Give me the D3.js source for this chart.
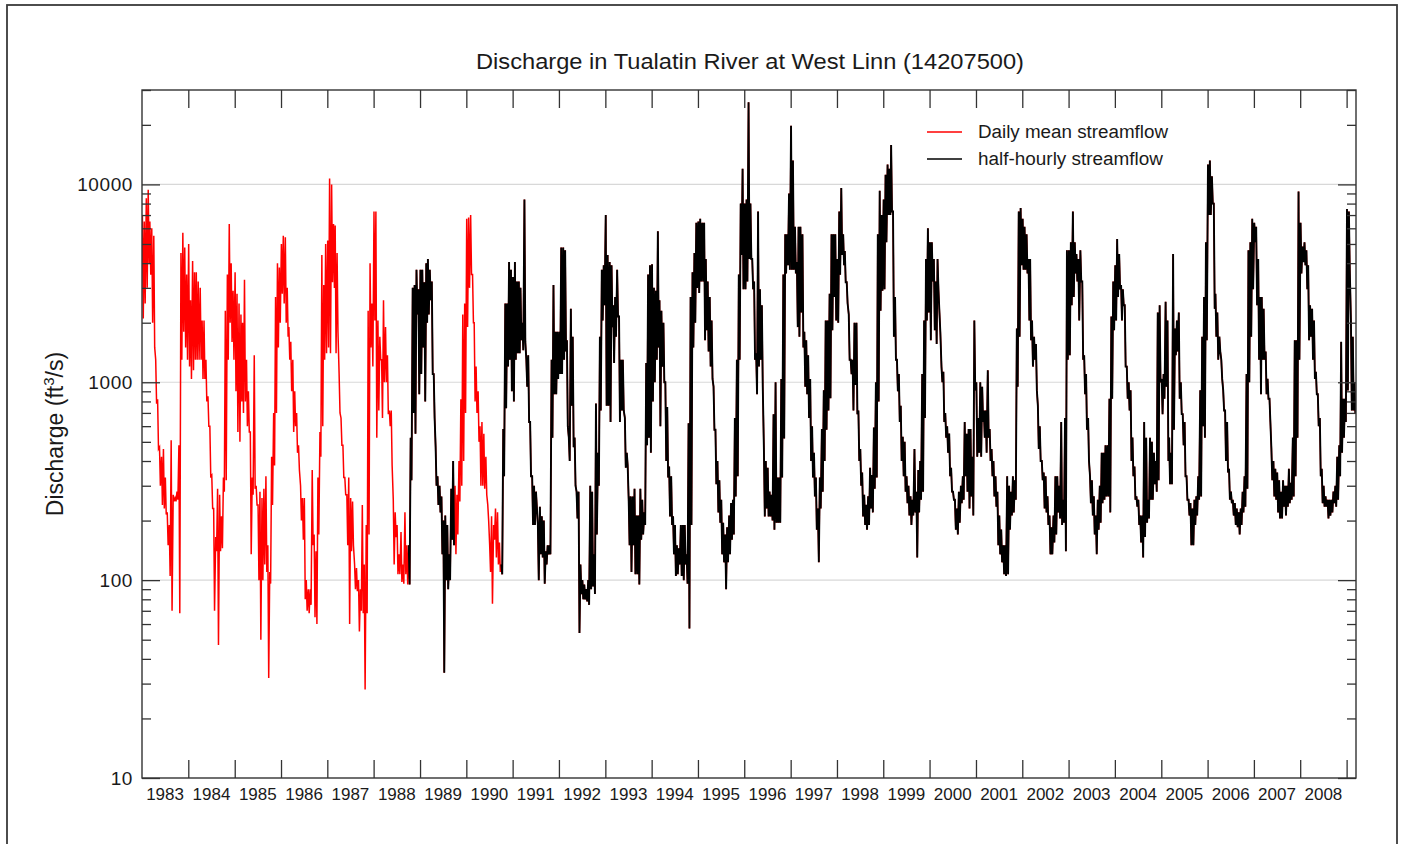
<!DOCTYPE html>
<html>
<head>
<meta charset="utf-8">
<script src="https://cdn.jsdelivr.net/npm/d3@7"></script>
<style>
  body { margin: 0; background: #fff; }
  svg { display: block; }
  text { font-family: "Liberation Sans", Arial, Helvetica, sans-serif; fill: #1a1a1a; }
</style>
</head>
<body>
<svg id="chart" width="1402" height="844"></svg>
<script>
// Discharge, ft3/s: for each half-month of the calendar year, the high then the low value.
const flow1983 = [7000,2100, 6500,2500, 8500,3000, 9400,4000, 6500,3500, 6000,2000, 5500,1500, 1300,780, 820,460, 470,300, 420,240, 460,230, 330,215, 220,150, 190,105, 510,70, 270,250, 260,250, 280,255, 480,68, 4500,1300, 5700,1800, 4800,1500, 3500,1300];
const flow1984 = [5000,1200, 2600,1040, 4100,1150, 3600,1300, 3600,1300, 3230,1300, 3000,1300, 2050,1040, 2050,1040, 1300,800, 850,600, 600,335, 340,230, 230,70, 165,140, 290,47, 270,140, 210,145, 330,280, 2300,320, 3500,1300, 6300,2000, 4000,1600, 2900,1300];
const flow1985 = [3600,900, 2800,560, 2500,500, 2200,800, 2000,700, 3300,800, 1300,600, 900,560, 560,135, 330,270, 1370,290, 300,240, 240,100, 280,50, 260,100, 290,120, 335,110, 150,32, 110,96, 420,240, 700,380, 2700,700, 4000,1500, 3800,2000];
const flow1986 = [5000,2800, 5500,2500, 5400,2000, 3000,1700, 1900,1300, 1600,900, 1300,560, 900,600, 700,440, 480,360, 300,200, 260,160, 260,80, 100,70, 90,68, 90,75, 360,150, 170,65, 140,60, 330,170, 560,420, 4400,600, 3100,1300, 5000,1400];
const flow1987 = [5200,1500, 10700,1400, 10000,3200, 6300,3000, 6200,1400, 4500,1800, 1100,700, 660,480, 480,330, 330,270, 270,150, 330,60, 260,140, 250,150, 120,90, 115,88, 100,55, 90,70, 240,68, 120,28, 190,68, 2300,170, 4000,1500, 2500,1200];
const flow1988 = [7300,2050, 7300,525, 2050,720, 1700,1300, 1300,660, 2600,1000, 1900,1000, 1370,690, 720,600, 720,380, 255,120, 220,165, 190,107, 135,107, 175,98, 120,96, 220,107, 150,95, 150,95, 525,320, 3000,700, 3100,550, 3700,2200, 2950,870];
const flow1989 = [3700,1100, 3700,1500, 3200,800, 4000,2000, 4200,2200, 3700,2600, 3230,1100, 1100,660, 470,300, 335,240, 300,220, 265,135, 200,34, 212,100, 190,90, 135,100, 290,160, 400,150, 300,135, 270,170, 400,250, 820,300, 2200,400, 2500,700];
const flow1990 = [6700,1900, 6800,3000, 7000,3500, 3500,2000, 2000,800, 1200,700, 900,500, 600,300, 630,300, 550,290, 420,270, 240,200, 150,110, 210,76, 190,160, 230,130, 220,120, 155,110, 120,107, 580,335, 2500,740, 2500,1200, 4050,1300, 3700,900];
const flow1991 = [3400,800, 4050,1300, 3230,1400, 3230,1400, 3000,1630, 2000,1450, 8400,1600, 1300,950, 1370,630, 630,335, 335,190, 300,190, 280,235, 190,100, 235,135, 210,130, 200,96, 140,120, 150,135, 150,135, 1300,525, 3100,870, 1800,870, 1800,1040];
const flow1992 = [1800,1100, 4800,1100, 4800,1300, 4650,1430, 1630,600, 525,400, 2350,760, 1700,470, 525,300, 280,205, 280,54, 120,85, 100,80, 95,80, 90,78, 100,75, 300,90, 280,93, 135,85, 780,170, 440,300, 1700,720, 3700,2050, 3900,2450];
const flow1993 = [7000,760, 4400,760, 4050,630, 3900,1900, 2450,1250, 2700,1700, 3700,2150, 2150,630, 1300,720, 1300,720, 660,370, 440,380, 255,150, 265,110, 265,150, 290,107, 212,107, 212,95, 290,160, 255,170, 220,190, 1250,480, 3500,525, 3900,440];
const flow1994 = [3950,800, 3000,1000, 2900,1300, 5800,1500, 2600,600, 2300,1200, 2000,1000, 1000,400, 750,330, 375,210, 335,190, 210,135, 190,105, 150,107, 145,120, 190,105, 190,100, 190,120, 135,96, 620,57, 2700,190, 3600,1500, 4500,2000, 6400,3000];
const flow1995 = [6500,2830, 6700,3230, 6400,3230, 6400,1630, 4200,1830, 3230,1430, 2700,1200, 2050,1040, 950,575, 575,305, 400,220, 320,195, 255,135, 195,123, 170,90, 185,123, 212,135, 245,160, 255,170, 660,265, 1300,335, 3500,1300, 8000,4400, 12000,2950];
const flow1996 = [8000,2950, 8400,3230, 26000,4200, 8000,4200, 4200,2950, 3230,1300, 1400,870, 7300,1200, 2950,1300, 2450,950, 460,210, 400,230, 370,210, 280,210, 270,200, 690,180, 1000,195, 330,195, 330,195, 1040,330, 3500,520, 5600,3550, 5600,3900, 9000,3700];
const flow1997 = [19800,3700, 13200,3700, 6100,3550, 4050,1900, 6100,1700, 6100,2250, 5600,1500, 1800,950, 1630,870, 1370,660, 1040,400, 600,330, 440,265, 330,180, 230,123, 330,230, 580,280, 910,400, 2050,575, 2050,720, 2800,830, 5600,1830, 5600,2700, 5600,2050];
const flow1998 = [4200,2000, 7300,3500, 9600,4400, 5600,3900, 4600,3200, 3200,2500, 2200,1300, 1300,1100, 1300,720, 2000,970, 2000,690, 720,400, 460,300, 350,210, 270,190, 240,180, 265,190, 370,230, 340,220, 590,290, 1000,330, 5600,800, 9300,2300, 7000,2900];
const flow1999 = [8400,2950, 11200,5100, 12600,7000, 12000,7000, 15800,7300, 7300,1700, 2700,1300, 1300,900, 1100,630, 760,400, 530,335, 500,280, 335,245, 300,212, 265,190, 255,212, 460,220, 280,130, 360,220, 400,255, 1100,280, 2050,660, 4200,2050, 6000,2250];
const flow2000 = [5100,1630, 5100,3230, 4200,1830, 3230,1560, 4200,2950, 2250,1790, 1200,1000, 1130,630, 700,525, 600,440, 550,335, 370,280, 280,255, 255,180, 230,170, 280,195, 300,245, 335,255, 630,335, 550,280, 580,230, 580,265, 420,212, 2050,910];
const flow2001 = [1000,420, 660,440, 1000,420, 950,630, 720,525, 720,440, 1150,525, 580,400, 460,335, 400,265, 335,235, 280,150, 212,135, 180,123, 150,107, 150,105, 335,107, 300,180, 280,212, 335,220, 320,255, 1870,950, 7300,1700, 7600,3900];
const flow2002 = [6700,3700, 6100,3700, 5600,3550, 4200,2050, 4200,1630, 2050,1200, 1700,1300, 1560,910, 760,460, 600,400, 400,320, 350,230, 335,220, 265,190, 212,135, 185,135, 212,155, 335,170, 335,220, 300,205, 630,190, 255,195, 660,140, 4650,1300];
const flow2003 = [4650,1370, 5100,2450, 7300,2700, 5100,3550, 4450,3230, 4200,2050, 4650,3230, 3230,1300, 1370,870, 1100,575, 660,400, 335,245, 320,212, 265,170, 212,135, 255,180, 300,195, 440,245, 440,255, 480,265, 480,265, 825,220, 2150,825, 3230,1830];
const flow2004 = [3900,2050, 5300,2700, 4450,2950, 3100,2050, 2950,2450, 2450,1200, 1200,825, 1000,720, 910,400, 525,335, 375,255, 265,235, 255,190, 212,155, 212,130, 630,165, 525,195, 255,205, 525,255, 500,255, 440,305, 400,280, 2250,320, 2450,1000];
const flow2005 = [1040,690, 1100,825, 2550,950, 2050,400, 525,305, 440,305, 4450,575, 1870,1370, 2050,1430, 2250,825, 1000,690, 690,480, 630,335, 335,255, 255,212, 245,150, 230,150, 255,190, 265,212, 335,255, 910,265, 1700,600, 2700,525, 5100,1630];
const flow2006 = [12600,7000, 13200,7000, 11000,8000, 8000,2350, 2800,1700, 2250,1300, 1700,1430, 1300,1040, 910,720, 720,400, 630,350, 365,255, 280,245, 255,212, 245,190, 230,185, 220,170, 230,190, 280,220, 335,235, 1100,290, 4650,1000, 5100,1700, 6700,2950];
const flow2007 = [6400,5100, 6100,2450, 4200,1300, 2700,870, 2700,1300, 2350,1300, 1430,870, 1040,825, 825,630, 460,320, 400,265, 365,255, 350,220, 320,205, 280,205, 320,235, 300,212, 300,235, 365,245, 310,255, 525,265, 1630,335, 1630,525, 9200,1300];
const flow2008 = [6400,3550, 4850,4050, 5100,3900, 4650,2950, 3900,1630, 2450,1700, 2350,1300, 2050,1040, 1130,870, 870,600, 660,335, 365,245, 300,235, 265,235, 255,205, 255,212, 255,220, 280,245, 300,235, 420,255, 480,335, 1600,440, 825,525, 825,630];
const flow2009 = [7500,910, 7300,3700, 2050,720, 1700,720, 1000,700];

const flowYears = [1983, 1984, 1985, 1986, 1987, 1988, 1989, 1990, 1991, 1992, 1993, 1994, 1995,
                   1996, 1997, 1998, 1999, 2000, 2001, 2002, 2003, 2004, 2005, 2006, 2007, 2008, 2009];
const flowTables = [flow1983, flow1984, flow1985, flow1986, flow1987, flow1988, flow1989, flow1990,
                    flow1991, flow1992, flow1993, flow1994, flow1995, flow1996, flow1997, flow1998,
                    flow1999, flow2000, flow2001, flow2002, flow2003, flow2004, flow2005, flow2006,
                    flow2007, flow2008, flow2009];

// Periods covered by the half-hourly record (water years 1989 and 1991 onward)
const halfHourlyPeriods = [["1988-10-01", "1989-09-30"], ["1990-10-01", "2009-12-31"]];

const yearLabels = ["1983", "1984", "1985", "1986", "1987", "1988", "1989", "1990", "1991", "1992",
                    "1993", "1994", "1995", "1996", "1997", "1998", "1999", "2000", "2001", "2002",
                    "2003", "2004", "2005", "2006", "2007", "2008"];
const yMajorTicks = [10, 100, 1000, 10000];
const yTickLabels = ["10", "100", "1000", "10000"];
const yGridValues = [100, 1000, 10000];
const seriesNames = ["Daily mean streamflow", "half-hourly streamflow"];
const seriesColors = ["#ff0000", "#000000"];

const plot = { left: 142, right: 1356, top: 90, bottom: 778 };

const svg = d3.select("#chart");

// Outer frame
svg.append("rect")
  .attr("x", 7).attr("y", 5).attr("width", 1390).attr("height", 880)
  .attr("fill", "none").attr("stroke", "#3a3a3a").attr("stroke-width", 1.8);

const x = d3.scaleTime()
  .domain([new Date(1983, 0, 1), new Date(2009, 2, 16)])
  .range([plot.left, plot.right]);
const y = d3.scaleLog()
  .domain([10, 30000])
  .range([plot.bottom, plot.top]);

// Build the time series: high on day 4/19, low on day 11/26 of each half-month
const records = [];
flowTables.forEach((tbl, i) => {
  const yr = flowYears[i];
  tbl.forEach((v, k) => {
    const half = Math.floor(k / 2);
    const month = Math.floor(half / 2);
    const day = (half % 2) * 15 + 4 + (k % 2) * 7;
    records.push({ date: new Date(yr, month, day), value: v });
  });
});

const parseDay = d3.timeParse("%Y-%m-%d");
const periods = halfHourlyPeriods.map(p => p.map(parseDay));
const inHalfHourly = d => periods.some(p => d.date >= p[0] && d.date <= p[1]);

// Gridlines
svg.append("g").selectAll("line").data(yGridValues).join("line")
  .attr("x1", plot.left).attr("x2", plot.right)
  .attr("y1", d => y(d)).attr("y2", d => y(d))
  .attr("stroke", "#d8d8d8").attr("stroke-width", 1.2);

svg.append("clipPath").attr("id", "plotClip").append("rect")
  .attr("x", plot.left).attr("y", plot.top)
  .attr("width", plot.right - plot.left).attr("height", plot.bottom - plot.top);

const lineGen = d3.line().x(d => x(d.date)).y(d => y(d.value));

const lines = svg.append("g").attr("clip-path", "url(#plotClip)");
lines.append("path")
  .datum(records)
  .attr("d", lineGen)
  .attr("fill", "none").attr("stroke", seriesColors[0]).attr("stroke-width", 1.5);
lines.append("path")
  .datum(records)
  .attr("d", lineGen.defined(inHalfHourly))
  .attr("fill", "none").attr("stroke", seriesColors[1]).attr("stroke-width", 1.9);

// Axes: inward ticks on all four sides
const tickColor = "#333";
const minorTicks = [];
yMajorTicks.forEach(d => { for (let m = 2; m <= 9; m++) if (d * m <= 30000) minorTicks.push(d * m); });

function styleAxis(g) {
  g.select(".domain").remove();
  g.selectAll(".tick line").attr("stroke", tickColor).attr("stroke-width", 1.3);
  g.selectAll(".tick text").remove();
}

svg.append("g").attr("transform", `translate(${plot.left},0)`)
  .call(d3.axisLeft(y).tickValues(yMajorTicks).tickSize(-18)).call(styleAxis);
svg.append("g").attr("transform", `translate(${plot.left},0)`)
  .call(d3.axisLeft(y).tickValues(minorTicks).tickSize(-9)).call(styleAxis);
svg.append("g").attr("transform", `translate(${plot.right},0)`)
  .call(d3.axisRight(y).tickValues(yMajorTicks).tickSize(-18)).call(styleAxis);
svg.append("g").attr("transform", `translate(${plot.right},0)`)
  .call(d3.axisRight(y).tickValues(minorTicks).tickSize(-9)).call(styleAxis);

const yearTicks = d3.range(1984, 2010).map(yr => new Date(yr, 0, 1));
svg.append("g").attr("transform", `translate(0,${plot.bottom})`)
  .call(d3.axisBottom(x).tickValues(yearTicks).tickSize(-18)).call(styleAxis);
svg.append("g").attr("transform", `translate(0,${plot.top})`)
  .call(d3.axisTop(x).tickValues(yearTicks).tickSize(-18)).call(styleAxis);

// Plot border
svg.append("rect")
  .attr("x", plot.left).attr("y", plot.top)
  .attr("width", plot.right - plot.left).attr("height", plot.bottom - plot.top)
  .attr("fill", "none").attr("stroke", "#333").attr("stroke-width", 1.4);

// Year labels centred on each year
svg.append("g").selectAll("text").data(yearLabels).join("text")
  .attr("x", d => x(new Date(+d, 6, 2)))
  .attr("y", 800)
  .attr("text-anchor", "middle")
  .attr("font-size", 17)
  .text(d => d);

// Discharge labels
svg.append("g").selectAll("text").data(yMajorTicks).join("text")
  .attr("x", 133)
  .attr("y", d => y(d) + 7)
  .attr("text-anchor", "end")
  .attr("font-size", 19)
  .attr("letter-spacing", 0.6)
  .text((d, i) => yTickLabels[i]);

// Title
svg.append("text")
  .attr("x", 476).attr("y", 69)
  .attr("font-size", 22)
  .attr("textLength", 548)
  .attr("lengthAdjust", "spacingAndGlyphs")
  .text("Discharge in Tualatin River at West Linn (14207500)");

// Y axis title
const yTitle = svg.append("text")
  .attr("transform", "translate(63,434) rotate(-90)")
  .attr("text-anchor", "middle")
  .attr("font-size", 23);
yTitle.append("tspan").text("Discharge (ft");
yTitle.append("tspan").attr("font-size", 15).attr("dy", -9).text("3");
yTitle.append("tspan").attr("dy", 9).text("/s)");

// Legend
const legend = svg.append("g");
seriesNames.forEach((name, i) => {
  const ly = 132 + i * 27;
  legend.append("line")
    .attr("x1", 927).attr("x2", 962).attr("y1", ly).attr("y2", ly)
    .attr("stroke", seriesColors[i]).attr("stroke-width", 1.3);
  legend.append("text")
    .attr("x", 978).attr("y", ly + 6)
    .attr("font-size", 18)
    .attr("textLength", i === 0 ? 190 : 185)
    .attr("lengthAdjust", "spacingAndGlyphs")
    .text(name);
});
</script>
</body>
</html>
